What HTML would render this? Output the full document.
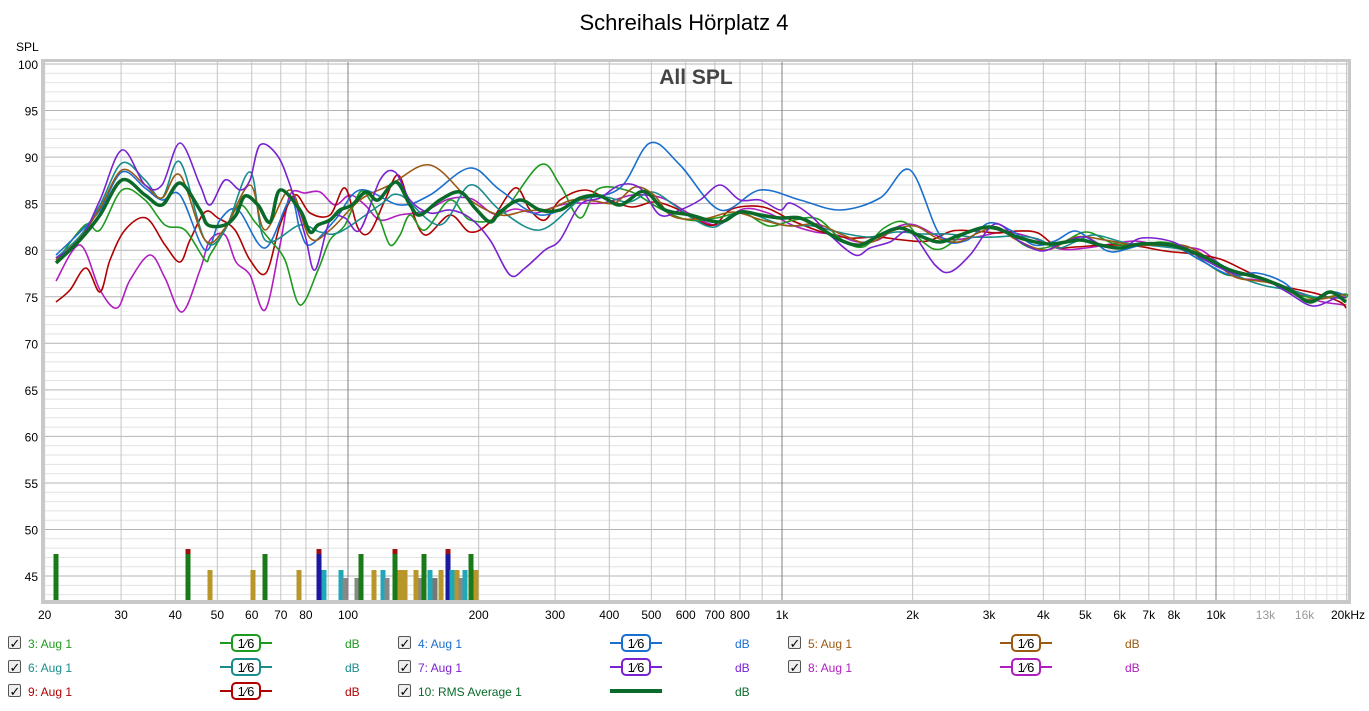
<!DOCTYPE html><html><head><meta charset="utf-8"><style>
body{margin:0;background:#fff;width:1369px;height:706px;overflow:hidden;font-family:"Liberation Sans",sans-serif}
svg text{font-family:"Liberation Sans",sans-serif}
</style></head><body>
<svg id="s" width="1369" height="706" xmlns="http://www.w3.org/2000/svg">
<text x="684" y="30" font-size="22" text-anchor="middle" fill="#000">Schreihals Hörplatz 4</text>
<text x="16" y="51" font-size="12" fill="#000">SPL</text>
<rect x="41" y="59" width="1310" height="545" fill="#c8c8c8"/>
<rect x="44" y="62" width="1304" height="538" fill="#fff"/>
<g id="grid"></g>
<text x="696" y="84" font-size="21" font-weight="bold" text-anchor="middle" fill="#444">All SPL</text>
<g id="bars"></g>
<g id="curves" fill="none" stroke-linejoin="round"></g>
<g id="labels" font-size="12"></g>
<g id="legend" font-size="12"></g>
</svg>
<script>
const NS="http://www.w3.org/2000/svg";
function el(p,t,a,txt){const e=document.createElementNS(NS,t);for(const k in a)e.setAttribute(k,a[k]);if(txt!==undefined)e.textContent=txt;document.getElementById(p).appendChild(e);return e;}
const X=f=>348+(Math.log10(f)-2)*434;
const Y=d=>64+(100-d)*9.31;
// horizontal grid
for(let d=43;d<=100;d++){const y=Y(d);el('grid','line',{x1:44,x2:1348,y1:y,y2:y,stroke:d%5==0?'#b4b4b4':'#e2e2e2','stroke-width':1});}
for(let d=45;d<=100;d+=5){el('labels','text',{x:38,y:Y(d)+5,'text-anchor':'end'},d);}
// vertical grid
let fs=[];for(let dec of [10,100,1000,10000])for(let m=1;m<10;m++){const f=m*dec;if(f>=20&&f<=20000)fs.push(f);}
fs.push(20000);
for(const f of fs){const x=X(f);const major=(f==100||f==1000||f==10000);el('grid','line',{x1:x,x2:x,y1:62,y2:600,stroke:major?'#808080':'#c4c4c4','stroke-width':1});}
for(let f=11000;f<20000;f+=1000){if(f%1000==0){const x=X(f);el('grid','line',{x1:x,x2:x,y1:62,y2:600,stroke:'#e0e0e0'});}}
const lab=[[20,'20'],[30,'30'],[40,'40'],[50,'50'],[60,'60'],[70,'70'],[80,'80'],[100,'100'],[200,'200'],[300,'300'],[400,'400'],[500,'500'],[600,'600'],[700,'700'],[800,'800'],[1000,'1k'],[2000,'2k'],[3000,'3k'],[4000,'4k'],[5000,'5k'],[6000,'6k'],[7000,'7k'],[8000,'8k'],[10000,'10k'],[13000,'13k'],[16000,'16k']];
for(const [f,t] of lab){el('labels','text',{x:X(f),y:619,'text-anchor':'middle',fill:(f==13000||f==16000)?'#999':'#000'},t);}
el('labels','text',{x:1348,y:619,'text-anchor':'middle'},'20kHz');
// bars
const bars=[[56,554,'#1a7a1a'],[188,549,'#1a7a1a','r'],[210,570,'#b8962a'],[253,570,'#b8962a'],[265,554,'#1a7a1a'],[299,570,'#b8962a'],[319,549,'#1a1aa0','r'],[324,570,'#20a8b8'],[341,570,'#20a8b8'],[345,578,'#888'],[357,578,'#888'],[361,554,'#1a7a1a'],[374,570,'#b8962a'],[383,570,'#20a8b8'],[387,578,'#888'],[395,549,'#1a7a1a','r'],[400,570,'#b8962a'],[405,570,'#b8962a'],[416,570,'#b8962a'],[421,578,'#888'],[424,554,'#1a7a1a'],[430,570,'#20a8b8'],[435,578,'#777'],[441,570,'#b8962a'],[448,549,'#1a1aa0','r'],[452,570,'#20a8b8'],[457,570,'#b8962a'],[461,578,'#888'],[465,570,'#20a8b8'],[471,554,'#1a7a1a'],[476,570,'#b8962a']];
for(const b of bars){el('bars','rect',{x:b[0]-2.5,y:b[1],width:5,height:600-b[1],fill:b[2]});if(b[3])el('bars','rect',{x:b[0]-2.5,y:b[1],width:5,height:5,fill:'#a01010'});}
// curves
function path(pts){let d='M'+pts[0][0]+','+pts[0][1];for(let i=0;i<pts.length-1;i++){const p0=pts[Math.max(0,i-1)],p1=pts[i],p2=pts[i+1],p3=pts[Math.min(pts.length-1,i+2)];const c1=[p1[0]+(p2[0]-p0[0])/6,p1[1]+(p2[1]-p0[1])/6],c2=[p2[0]-(p3[0]-p1[0])/6,p2[1]-(p3[1]-p1[1])/6];d+=` C${c1[0].toFixed(1)},${c1[1].toFixed(1)} ${c2[0].toFixed(1)},${c2[1].toFixed(1)} ${p2[0]},${p2[1]}`;}return d;}
const rms=[[56,263],[80,240],[100,215],[122,180],[145,195],[162,205],[180,183],[200,210],[208,225],[225,225],[236,215],[245,196],[258,205],[270,222],[280,190],[300,210],[310,232],[318,225],[330,220],[340,210],[352,205],[366,192],[378,200],[396,182],[410,205],[420,215],[440,200],[460,192],[475,208],[490,222],[500,212],[520,200],[540,210],[560,210],[580,198],[600,196],[620,205],[640,192],[650,195],[665,210],[690,215],[720,222],[740,212],[760,215],[780,218],[800,218],[820,228],[840,240],[860,245],[880,235],[900,228],[920,236],[940,242],[960,235],[990,227],[1020,238],[1050,244],[1080,240],[1100,245],[1120,248],[1140,244],[1170,245],[1200,255],[1230,270],[1260,278],[1290,290],[1310,302],[1330,292],[1346,302]];
function rmsAt(x){for(let i=0;i<rms.length-1;i++)if(x<=rms[i+1][0]){const t=(x-rms[i][0])/(rms[i+1][0]-rms[i][0]);return rms[i][1]+t*(rms[i+1][1]-rms[i][1]);}return rms[rms.length-1][1];}
function mk(start,seed,amp){const pts=start.slice();let x=start[start.length-1][0];let k=0;while(x<1346){x=Math.min(1346,x+18+((seed*7+k*13)%14));k++;const dev=amp*Math.sin(k*1.7+seed)*(x>1100?0.6:1)+amp*0.5*Math.sin(k*0.63+seed*2);pts.push([x,Math.round(rmsAt(x)+dev)]);}return pts;}
const C={
purple:mk([[56,258],[80,240],[100,200],[122,150],[145,185],[162,185],[180,143],[200,185],[210,205],[225,180],[240,190],[250,180],[260,145],[277,155],[290,185],[305,235],[315,270],[330,220],[345,218],[360,230],[380,180],[395,172],[410,200],[430,213],[450,210],[470,218],[490,240],[510,275],[525,268],[545,250],[560,240],[580,205],[600,198],[620,185],[640,188],[660,215],[680,210],[700,200],[720,185],[740,200],[760,200],[780,210],[790,203],[810,215],[830,235],[855,255],[870,248],[890,242],[910,232],[935,265],[950,272],[970,255]],3,6),
magenta:mk([[56,281],[80,245],[100,290],[117,308],[130,280],[150,255],[165,278],[182,312],[200,270],[210,240],[225,235],[236,262],[250,275],[265,310],[280,245],[290,195],[305,193],[320,192],[335,205],[350,195],[365,205],[380,220],[400,215]],5,6),
red:mk([[56,302],[70,290],[86,268],[100,292],[110,260],[125,230],[146,218],[165,245],[180,262],[190,240],[205,212],[218,218],[235,230],[250,260],[266,273],[280,225],[295,195],[310,213],[330,215],[345,188],[358,228],[370,232],[385,200],[398,175],[410,205],[425,235],[450,215],[470,232],[490,222],[515,188],[530,210],[545,220],[560,200]],9,7),
green:mk([[56,262],[85,225],[100,230],[122,190],[145,200],[165,225],[185,230],[205,260],[210,255],[225,230],[240,205],[255,222],[270,240],[285,260],[300,305],[318,270],[330,240],[345,225],[360,192],[370,200],[380,220],[390,245],[400,235],[410,215],[425,230],[450,200],[470,220],[500,215],[540,165],[560,185],[580,218]],2,7),
blue:mk([[56,255],[80,232],[100,210],[122,172],[145,188],[162,200],[180,195],[205,250],[220,220],[238,210],[265,248],[290,200],[300,230],[310,245],[335,220],[360,190],[400,205],[430,195],[470,168],[500,190],[540,215],[580,200],[620,188],[650,143],[680,165],[720,210],[760,190],[800,200],[840,210],[880,198],[910,170],[940,235]],7,7),
teal:mk([[56,258],[80,236],[100,205],[122,163],[145,180],[162,198],[180,162],[205,240],[225,230],[250,172],[265,240],[300,225],[320,232],[340,232],[380,205],[400,195],[440,225],[470,185],[500,210],[540,230],[580,200]],11,6),
brown:mk([[56,260],[80,238],[100,208],[122,170],[145,185],[162,198],[180,175],[205,240],[225,228],[250,185],[265,230],[290,190],[310,238],[330,230],[360,200],[390,185],[430,165],[470,200],[500,215]],13,6)};
const col={green:'#1e9a1e',blue:'#1a6fcf',brown:'#9a5a12',teal:'#1a8c8c',purple:'#7a22d0',magenta:'#b01ec0',red:'#b00000'};
for(const k of ['magenta','red','green','blue','teal','brown','purple']){el('curves','path',{d:path(C[k]),stroke:col[k],'stroke-width':1.6});}
el('curves','path',{d:path(rms),stroke:'#0a6a2a','stroke-width':3.5});
// legend
const L=[[8,643,'3: Aug 1','#1e9a1e'],[398,643,'4: Aug 1','#1a6fcf'],[788,643,'5: Aug 1','#9a5a12'],[8,667,'6: Aug 1','#1a8c8c'],[398,667,'7: Aug 1','#7a22d0'],[788,667,'8: Aug 1','#b01ec0'],[8,691,'9: Aug 1','#b00000'],[398,691,'10: RMS Average 1','#0a6a2a','rms']];
for(const [x,y,t,c,r] of L){
el('legend','rect',{x:x+0.5,y:y-6.5,width:12,height:12,fill:'#eee',stroke:'#555',rx:1.5});
el('legend','text',{x:x+1.5,y:y+5,'font-size':13,fill:'#000'},'✓');
el('legend','text',{x:x+20,y:y+5,fill:c},t);
const sx=x+212;
if(r){el('legend','line',{x1:sx,x2:sx+52,y1:y,y2:y,stroke:c,'stroke-width':4});}
else{el('legend','line',{x1:sx,x2:sx+52,y1:y,y2:y,stroke:c,'stroke-width':2});el('legend','rect',{x:sx+12,y:y-8,width:28,height:16,rx:4,fill:'#fff',stroke:c,'stroke-width':2});el('legend','text',{x:sx+26,y:y+5,'text-anchor':'middle',fill:'#000','font-size':13},'1⁄6');}
el('legend','text',{x:x+337,y:y+5,fill:c},'dB');}
</script>
</body></html>
